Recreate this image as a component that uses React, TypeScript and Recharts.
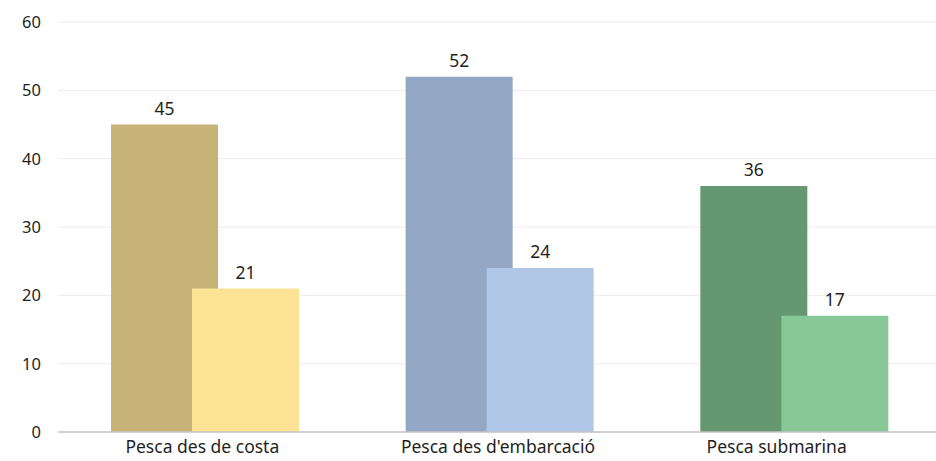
import React from "react";
import { BarChart, Bar, XAxis, YAxis, CartesianGrid, Cell, LabelList } from "recharts";

const categories = ["Pesca des de costa", "Pesca des d'embarcació", "Pesca submarina"];
const seriesA = [45, 52, 36];
const seriesB = [21, 24, 17];
const yTicks = [0, 10, 20, 30, 40, 50, 60];

const colorsA = ["#C8B478", "#94A8C6", "#659870"];
const colorsB = ["#FCE294", "#B1C7E8", "#88C796"];
const tickShift = [-3, -2, -18];

const data = categories.map((name, i) => ({ name, a: seriesA[i], b: seriesB[i] }));

const FONT = "'Noto Sans', sans-serif";

const XTick = (props: any) => {
  const { x, y, payload, index } = props;
  return (
    <text
      x={x + (tickShift[index] || 0)}
      y={y}
      dy={12.8}
      textAnchor="middle"
      fill="#1f1f1f"
      fontSize={17.5}
      fontFamily={FONT}
    >
      {payload.value}
    </text>
  );
};

export default function App() {
  return (
    <div style={{ position: "absolute", left: 0, top: 0, width: 936, height: 461, overflow: "hidden", background: "#fff" }}>
      <BarChart
        width={944}
        height={461}
        data={data}
        margin={{ top: 22, right: 2, bottom: 0, left: 0 }}
        barSize={107}
        barGap={-26}
      >
        <CartesianGrid vertical={false} stroke="#ececec" strokeWidth={1} />
        <XAxis
          dataKey="name"
          height={29}
          tickLine={false}
          axisLine={{ stroke: "#c4c4c4", strokeWidth: 1.5 }}
          tick={<XTick />}
          interval={0}
        />
        <YAxis
          width={58}
          domain={[0, 60]}
          ticks={yTicks}
          axisLine={false}
          tickLine={false}
          tickMargin={11}
          tick={{ fill: "#1f1f1f", fontSize: 16.5, fontFamily: FONT }}
        />
        <Bar dataKey="a" isAnimationActive={false}>
          {data.map((_, i) => (
            <Cell key={i} fill={colorsA[i]} />
          ))}
          <LabelList dataKey="a" position="top" offset={10} fill="#1f1f1f" fontSize={17.5} fontFamily={FONT} />
        </Bar>
        <Bar dataKey="b" isAnimationActive={false}>
          {data.map((_, i) => (
            <Cell key={i} fill={colorsB[i]} />
          ))}
          <LabelList dataKey="b" position="top" offset={10} fill="#1f1f1f" fontSize={17.5} fontFamily={FONT} />
        </Bar>
      </BarChart>
    </div>
  );
}
